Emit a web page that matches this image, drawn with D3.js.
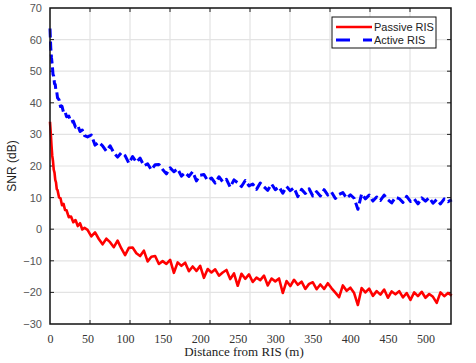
<!DOCTYPE html>
<html>
<head>
<meta charset="utf-8">
<script src="https://cdn.jsdelivr.net/npm/d3@7"></script>
<style>
  body { margin: 0; background: #fff; }
  svg { display: block; }
</style>
</head>
<body>
<div id="chart"></div>
<script>
// distances (m) as they read on the x labels
var distance = [0, 1, 2, 3, 4, 5, 6, 7, 8, 9, 10, 12, 14, 16, 18, 20, 22, 25, 28, 31, 34, 37, 40, 43, 46,
    50, 55, 60, 65, 70, 75, 80, 85, 90, 95, 100, 105, 110, 115, 120, 125, 130, 135, 140, 145,
    150, 155, 160, 165, 170, 175, 180, 185, 190, 195, 200, 205, 210, 215, 220, 225, 230, 235, 240, 245,
    250, 255, 260, 265, 270, 275, 280, 285, 290, 295, 300, 305, 310, 315, 320, 325, 330, 335, 340, 345,
    350, 355, 360, 365, 370, 375, 380, 385, 390, 395, 400, 405, 410, 415, 420, 425, 430, 435, 440, 445,
    450, 455, 460, 465, 470, 475, 480, 485, 490, 495, 500, 505, 510, 515, 520, 525, 530, 535];

var passiveSNR = [34, 30.5, 26.5, 23.2, 21.5, 18.8, 17.9, 15.6, 14.8, 12.7, 12.4, 10.1, 9.8, 7.6, 8.0, 6.1, 6.0, 3.8, 4.0, 2.2, 2.9, 1.0, 1.9, -0.1, 0.4,
    -0.2, -2.3, -1.0, -3.1, -4.8, -3.0, -4.1, -5.7, -3.6, -6.1, -8.2, -5.9, -5.8, -7.6, -8.5, -6.8, -10.2, -8.7, -8.5, -11.0,
    -10.1, -11.0, -9.7, -13.8, -10.5, -11.6, -10.6, -13.3, -11.8, -13.2, -11.6, -15.4, -12.6, -13.7, -12.7, -14.7, -13.7, -12.9, -15.8, -14.0,
    -17.9, -14.1, -15.7, -14.3, -16.7, -15.3, -16.1, -14.7, -17.8, -15.6, -16.5, -15.6, -20.2, -16.4, -18.0, -16.0, -17.6, -16.6, -18.9, -17.3,
    -16.8, -19.0, -17.5, -18.9, -17.1, -18.7, -20.1, -21.5, -17.8, -19.5, -18.5, -20.2, -24.0, -18.6, -20.0, -18.8, -21.1, -19.6, -20.7, -19.1,
    -21.7, -19.7, -20.6, -19.6, -21.6, -20.2, -22.4, -20.0, -21.2, -19.8, -21.7, -20.5, -21.4, -23.3, -20.0, -21.2, -20.2, -21.0];

var activeSNR = [63.5, 57.5, 54.2, 52.0, 49.0, 48.4, 46.0, 45.8, 43.6, 43.5, 41.6, 41.0, 38.8, 38.9, 37.0, 37.3, 35.6, 35.8, 33.9, 34.2, 32.3, 32.8, 30.9, 31.4, 29.6,
    29.2, 29.8, 26.6, 27.5, 26.4, 24.7, 26.4, 24.2, 22.8, 24.2, 23.3, 20.9, 23.0, 21.2, 22.5, 20.1, 20.7, 18.8, 20.4, 20.5,
    18.9, 17.5, 19.4, 18.2, 19.1, 16.8, 17.9, 16.7, 18.2, 15.3, 17.1, 17.3, 15.4, 16.2, 14.6, 16.6, 15.0, 15.8, 13.3, 15.6,
    14.7, 13.5, 15.4, 13.7, 14.3, 12.6, 14.6, 13.4, 12.3, 14.3, 12.5, 13.4, 11.4, 13.5, 12.2, 13.1, 10.3, 12.6, 11.3, 12.8,
    10.5, 11.9, 10.5, 12.5, 10.8, 11.7, 9.7, 11.0, 11.6, 9.8, 10.9, 9.8, 6.3, 11.2, 9.6, 10.8, 8.9, 10.2, 9.1, 10.8,
    9.3, 8.3, 10.1, 9.7, 8.5, 10.4, 8.8, 9.6, 8.0, 9.9, 8.9, 10.0, 8.2, 9.4, 8.0, 9.6, 8.7, 9.3];

var xTickLabels = [0, 50, 100, 150, 200, 250, 300, 350, 400, 450, 500];
var yTicks = [-30, -20, -10, 0, 10, 20, 30, 40, 50, 60, 70];
var seriesNames = ["Passive RIS", "Active RIS"];

function init() {
    var w = 476, h = 363;
    var margin = { top: 8, right: 25, bottom: 39, left: 50 };
    var left = margin.left, right = w - margin.right, top = margin.top, bottom = h - margin.bottom;

    var svg = d3.select("#chart").append("svg")
        .attr("width", w)
        .attr("height", h)
        .attr("viewBox", [0, 0, w, h]);

    svg.append("rect").attr("width", w).attr("height", h).attr("fill", "#fff");

    var x = d3.scaleLinear().domain([0, 534]).range([left, right]);
    var y = d3.scaleLinear().domain([-30, 70]).range([bottom, top]);
    // grid and tick marks sit on ten equal steps of the frame
    var gridX = d3.scaleLinear().domain([0, 10]).range([left, right - 1]);
    var gridSteps = d3.range(1, 10);

    // grid
    svg.append("g").selectAll("line.vg")
        .data(gridSteps).enter().append("line")
        .attr("x1", d => gridX(d)).attr("x2", d => gridX(d))
        .attr("y1", top).attr("y2", bottom)
        .attr("stroke", "#e3e3e3").attr("stroke-width", 1.2);
    svg.append("g").selectAll("line.hg")
        .data(yTicks.slice(1, -1)).enter().append("line")
        .attr("x1", left).attr("x2", right)
        .attr("y1", d => y(d)).attr("y2", d => y(d))
        .attr("stroke", "#e3e3e3").attr("stroke-width", 1.2);

    // inward tick marks on all four sides
    var tickG = svg.append("g").attr("stroke", "#222").attr("stroke-width", 1);
    gridSteps.forEach(function(d) {
        tickG.append("line").attr("x1", gridX(d)).attr("x2", gridX(d)).attr("y1", bottom).attr("y2", bottom - 4);
        tickG.append("line").attr("x1", gridX(d)).attr("x2", gridX(d)).attr("y1", top).attr("y2", top + 4);
    });
    yTicks.slice(1, -1).forEach(function(d) {
        tickG.append("line").attr("x1", left).attr("x2", left + 4).attr("y1", y(d)).attr("y2", y(d));
        tickG.append("line").attr("x1", right).attr("x2", right - 4).attr("y1", y(d)).attr("y2", y(d));
    });

    // lines
    var line = d3.line()
        .x((d, i) => x(distance[i]))
        .y(d => y(d));

    var plot = svg.append("g");
    plot.append("path")
        .datum(passiveSNR)
        .attr("d", line)
        .attr("fill", "none")
        .attr("stroke", "#ff0000")
        .attr("stroke-width", 2.6)
        .attr("stroke-linejoin", "round");

    plot.append("path")
        .datum(activeSNR)
        .attr("d", line)
        .attr("fill", "none")
        .attr("stroke", "#0000ff")
        .attr("stroke-width", 3)
        .attr("stroke-linejoin", "round")
        .attr("stroke-dasharray", "9,4");

    // frame
    svg.append("rect")
        .attr("x", left).attr("y", top)
        .attr("width", right - left).attr("height", bottom - top)
        .attr("fill", "none").attr("stroke", "#111").attr("stroke-width", 1.5);

    // axes (labels only)
    var xAxis = svg.append("g")
        .attr("transform", `translate(0,${bottom})`)
        .call(d3.axisBottom(x).tickValues(xTickLabels).tickSize(0).tickPadding(10));
    xAxis.select(".domain").remove();
    xAxis.selectAll("text")
        .attr("font-family", "'Liberation Serif', 'Times New Roman', serif")
        .attr("font-size", 12)
        .attr("fill", "#333");

    var yAxis = svg.append("g")
        .attr("transform", `translate(${left},0)`)
        .call(d3.axisLeft(y).tickValues(yTicks).tickSize(0).tickPadding(8));
    yAxis.select(".domain").remove();
    yAxis.selectAll("text")
        .attr("font-family", "'Liberation Sans', Arial, sans-serif")
        .attr("font-size", 11)
        .attr("fill", "#555");

    svg.append("text")
        .attr("x", 244).attr("y", 356)
        .attr("text-anchor", "middle")
        .attr("font-family", "'Liberation Serif', 'Times New Roman', serif")
        .attr("font-size", 13)
        .attr("fill", "#222")
        .text("Distance from RIS (m)");

    svg.append("text")
        .attr("transform", `translate(16,${(top + bottom) / 2}) rotate(-90)`)
        .attr("text-anchor", "middle")
        .attr("font-family", "'Liberation Sans', Arial, sans-serif")
        .attr("font-size", 12)
        .attr("fill", "#222")
        .text("SNR (dB)");

    // legend
    var lg = svg.append("g").attr("transform", "translate(332,17)");
    lg.append("rect").attr("width", 104).attr("height", 31)
        .attr("fill", "#fff").attr("stroke", "#111").attr("stroke-width", 1);
    var styles = [
        { color: "#ff0000", dash: null, width: 2.4 },
        { color: "#0000ff", dash: "14,13", width: 3 }
    ];
    seriesNames.forEach(function(name, i) {
        var yy = 10 + i * 13;
        lg.append("line")
            .attr("x1", 4).attr("x2", 40).attr("y1", yy).attr("y2", yy)
            .attr("stroke", styles[i].color)
            .attr("stroke-width", styles[i].width)
            .attr("stroke-dasharray", styles[i].dash);
        lg.append("text")
            .attr("x", 42).attr("y", yy + 4)
            .attr("font-family", "'Liberation Sans', Arial, sans-serif")
            .attr("font-size", 11)
            .attr("fill", "#222")
            .text(name);
    });
}

window.onload = init;
</script>
</body>
</html>
